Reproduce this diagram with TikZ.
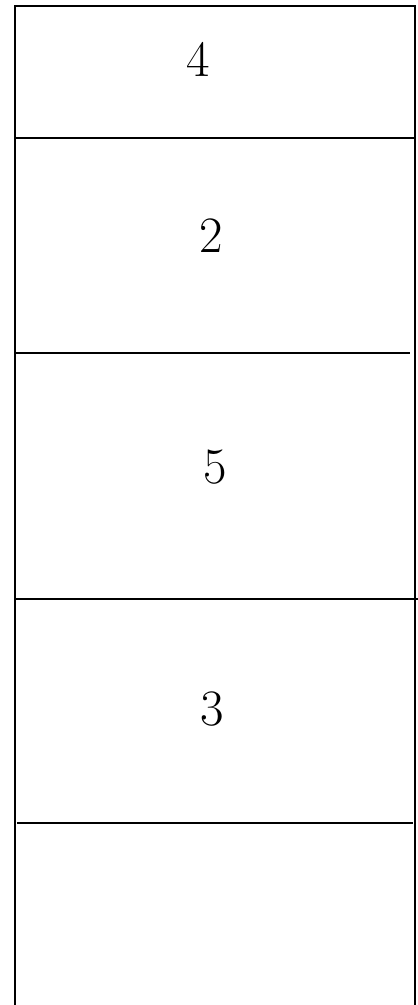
\documentclass[tikz,border=0pt]{standalone}
\usepackage{fontspec}
\begin{document}
\begin{tikzpicture}[x=1pt,y=-1pt,
  wall/.style={draw=black,line width=2.2pt},
  divider/.style={draw=black,line width=2.2pt},
  num/.style={anchor=base,inner sep=0pt,font=\fontsize{51}{51}\selectfont}]
\useasboundingbox (0,0) rectangle (418,1005);
% outer frame (open at bottom)
\coordinate (bl) at (15,1005);
\coordinate (tl) at (15,6);
\coordinate (tr) at (415,6);
\coordinate (br) at (415,1005);
\draw[wall] (bl) -- (tl) -- (tr) -- (br);
% dividers
\coordinate (d1l) at (15,138);  \coordinate (d1r) at (415,138);
\coordinate (d2l) at (15,353);  \coordinate (d2r) at (410,353);
\coordinate (d3l) at (15,599);  \coordinate (d3r) at (418,599);
\coordinate (d4l) at (17,823);  \coordinate (d4r) at (413,823);
\draw[divider] (d1l) -- (d1r);
\draw[divider] (d2l) -- (d2r);
\draw[divider] (d3l) -- (d3r);
\draw[divider] (d4l) -- (d4r);
% labels
\node[num] (n4) at (198,76) {4};
\node[num] (n2) at (211,252) {2};
\node[num] (n5) at (215,483) {5};
\node[num] (n3) at (212,725) {3};
\end{tikzpicture}
\end{document}
